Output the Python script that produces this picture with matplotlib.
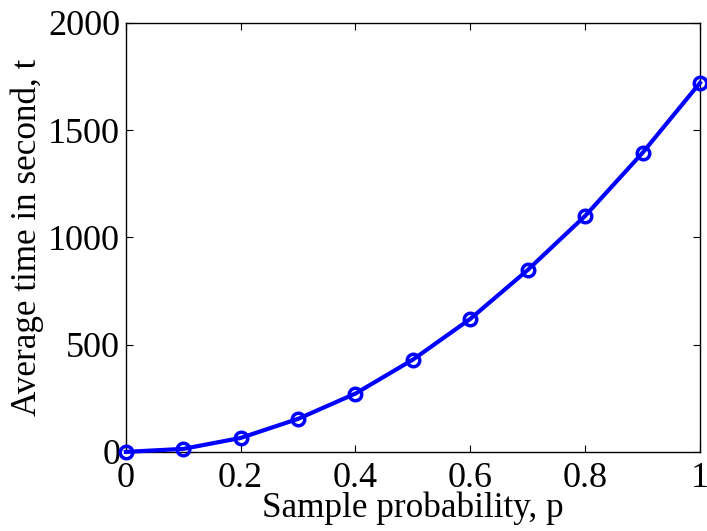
import matplotlib.pyplot as plt

plt.rcParams['font.family'] = ['Liberation Serif', 'DejaVu Serif']

# sample probability vs average time
p = [0, 0.1, 0.2, 0.3, 0.4, 0.5, 0.6, 0.7, 0.8, 0.9, 1.0]
t = [0, 14, 65, 154, 272, 430, 620, 848, 1100, 1394, 1720]

fig = plt.figure(figsize=(7.07, 5.31), dpi=100)
ax = fig.add_axes([0.178, 0.149, 0.812, 0.808])

ax.plot(p, t, color='blue', linewidth=3, marker='o', markersize=9,
        markerfacecolor='none', markeredgewidth=2.5, clip_on=False, zorder=3)

ax.set_xlim(0, 1)
ax.set_ylim(0, 2000)
ax.set_xticks([0, 0.2, 0.4, 0.6, 0.8, 1])
ax.set_xticklabels(['0', '0.2', '0.4', '0.6', '0.8', '1'])
ax.set_yticks([0, 500, 1000, 1500, 2000])
ax.tick_params(direction='in', length=5, width=0.8, labelsize=26,
               top=True, right=True)
ax.tick_params(axis='x', pad=7)
ax.tick_params(axis='y', pad=4)
for s in ax.spines.values():
    s.set_linewidth(1.0)

ax.set_xlabel('Sample probability, p', fontsize=25.3, labelpad=-2)
ax.set_ylabel('Average time in second, t', fontsize=25.3, labelpad=3)

fig.savefig('out.png', dpi=100)
